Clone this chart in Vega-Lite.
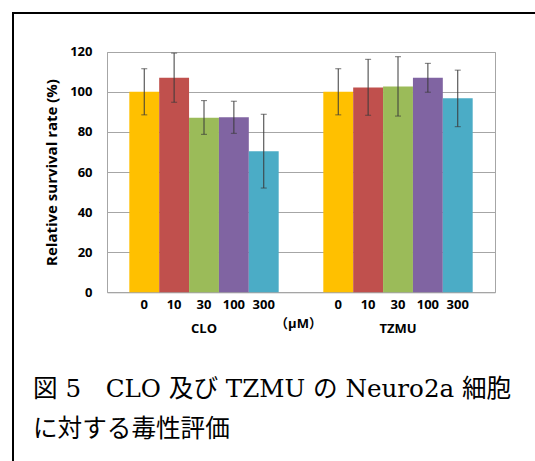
{
  "$schema": "https://vega.github.io/schema/vega-lite/v6.json",
  "width": 522,
  "height": 448,
  "autosize": "none",
  "padding": {"left": 13, "top": 13, "right": 0, "bottom": 0},
  "background": "white",
  "title": {
    "text": ["図 5　CLO 及び TZMU の Neuro2a 細胞", "に対する毒性評価"],
    "orient": "bottom",
    "anchor": "start",
    "frame": "group",
    "offset": -64,
    "dx": 20,
    "baseline": "alphabetic",
    "fontSize": 24.6,
    "lineHeight": 40,
    "font": "DejaVu Serif, Noto Sans CJK JP",
    "fontWeight": "normal",
    "color": "black"
  },
  "data": {
    "values": [
      {"compound": "CLO", "dose": "0", "value": 100, "lo": 88.5, "hi": 111.5},
      {"compound": "CLO", "dose": "10", "value": 107, "lo": 94.8, "hi": 119.3},
      {"compound": "CLO", "dose": "30", "value": 87, "lo": 78.8, "hi": 95.6},
      {"compound": "CLO", "dose": "100", "value": 87.3, "lo": 79.3, "hi": 95.3},
      {"compound": "CLO", "dose": "300", "value": 70.3, "lo": 52, "hi": 88.8},
      {"compound": "TZMU", "dose": "0", "value": 100, "lo": 88.5, "hi": 111.5},
      {"compound": "TZMU", "dose": "10", "value": 102.2, "lo": 88.3, "hi": 116.2},
      {"compound": "TZMU", "dose": "30", "value": 102.7, "lo": 87.9, "hi": 117.5},
      {"compound": "TZMU", "dose": "100", "value": 107, "lo": 99.8, "hi": 114.2},
      {"compound": "TZMU", "dose": "300", "value": 96.8, "lo": 82.6, "hi": 110.8}
    ]
  },
  "resolve": {"axis": {"y": "independent"}},
  "layer": [
    {
      "mark": {"type": "bar"},
      "encoding": {
        "x": {
          "field": "compound", "type": "nominal", "sort": ["CLO", "TZMU"],
          "scale": {"range": [94, 482], "paddingInner": 0.23, "paddingOuter": 0.115},
          "axis": {
            "orient": "bottom", "offset": -168.7, "domainColor": "#a6a6a6", "domainWidth": 1,
            "ticks": false, "tickSize": 0, "labelAngle": 0, "labelPadding": 30, "labelBaseline": "top",
            "labelFont": "Open Sans", "labelFontWeight": "bold", "labelFontSize": 13, "labelColor": "black",
            "title": "（μM）", "titleFont": "Open Sans, Noto Sans CJK JP", "titleFontWeight": "bold", "titleFontSize": 13,
            "titleColor": "black", "titleX": 285, "titleY": 31, "titleBaseline": "middle", "titleAlign": "center"
          }
        },
        "xOffset": {
          "field": "dose", "type": "nominal", "sort": ["0", "10", "30", "100", "300"],
          "scale": {"paddingInner": 0, "paddingOuter": 0}
        },
        "y": {
          "field": "value", "type": "quantitative",
          "scale": {"domain": [0, 120], "range": [279.3, 38.7], "nice": false, "zero": true},
          "axis": {
            "orient": "left", "offset": -94, "values": [0, 20, 40, 60, 80, 100, 120],
            "grid": true, "gridColor": "#a6a6a6", "gridWidth": 1,
            "domainColor": "#a6a6a6", "domainWidth": 1, "ticks": false, "tickSize": 0,
            "labelPadding": 15, "labelFont": "Open Sans", "labelFontWeight": "bold", "labelFontSize": 13,
            "labelColor": "black",
            "title": "Relative survival rate (%)", "titleFont": "Open Sans", "titleFontWeight": "bold",
            "titleFontSize": 15, "titleColor": "black", "titlePadding": 10
          }
        },
        "color": {
          "field": "dose", "type": "nominal",
          "scale": {"domain": ["0", "10", "30", "100", "300"], "range": ["#FFC000", "#C0504D", "#9BBB59", "#8064A2", "#4BACC6"]},
          "legend": null
        }
      }
    },
    {
      "mark": {"type": "rule", "color": "#3a3a3a", "strokeWidth": 1},
      "encoding": {
        "x": {"field": "compound", "type": "nominal", "sort": ["CLO", "TZMU"]},
        "xOffset": {"field": "dose", "type": "nominal", "sort": ["0", "10", "30", "100", "300"]},
        "y": {
          "field": "lo", "type": "quantitative",
          "scale": {"domain": [0, 120], "range": [279.3, 38.7], "nice": false, "zero": true},
          "axis": {
            "orient": "right", "offset": -40, "grid": false, "labels": false, "ticks": false,
            "domainColor": "#a6a6a6", "domainWidth": 1, "title": null
          }
        },
        "y2": {"field": "hi"}
      }
    },
    {
      "mark": {"type": "tick", "orient": "horizontal", "color": "#3a3a3a", "size": 6, "thickness": 1},
      "encoding": {
        "x": {"field": "compound", "type": "nominal", "sort": ["CLO", "TZMU"]},
        "xOffset": {"field": "dose", "type": "nominal", "sort": ["0", "10", "30", "100", "300"]},
        "y": {
          "field": "hi", "type": "quantitative",
          "scale": {"domain": [0, 120], "range": [279.3, 38.7], "nice": false, "zero": true},
          "axis": null
        }
      }
    },
    {
      "mark": {"type": "tick", "orient": "horizontal", "color": "#3a3a3a", "size": 6, "thickness": 1},
      "encoding": {
        "x": {"field": "compound", "type": "nominal", "sort": ["CLO", "TZMU"]},
        "xOffset": {"field": "dose", "type": "nominal", "sort": ["0", "10", "30", "100", "300"]},
        "y": {
          "field": "lo", "type": "quantitative",
          "scale": {"domain": [0, 120], "range": [279.3, 38.7], "nice": false, "zero": true},
          "axis": null
        }
      }
    },
    {
      "mark": {"type": "text", "dy": 13, "baseline": "middle", "align": "center", "font": "Open Sans", "fontWeight": "bold", "fontSize": 13, "color": "black"},
      "encoding": {
        "x": {"field": "compound", "type": "nominal", "sort": ["CLO", "TZMU"]},
        "xOffset": {"field": "dose", "type": "nominal", "sort": ["0", "10", "30", "100", "300"]},
        "y": {
          "datum": 0, "type": "quantitative",
          "scale": {"domain": [0, 120], "range": [279.3, 38.7], "nice": false, "zero": true},
          "axis": null
        },
        "text": {"field": "dose"}
      }
    }
  ],
  "config": {
    "view": {"stroke": "black", "strokeWidth": 2, "strokeDash": [522, 970, 448], "strokeCap": "square"}
  }
}
